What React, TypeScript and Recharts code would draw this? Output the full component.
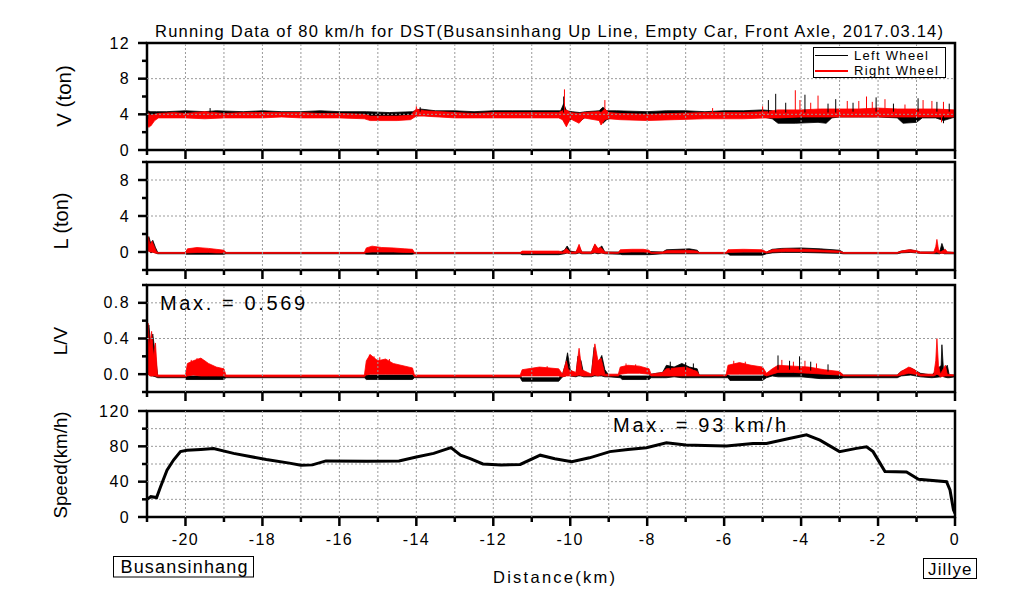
import React from "react";
import {
  ComposedChart,
  Area,
  Line,
  XAxis,
  YAxis,
  ReferenceArea,
  Legend,
} from "recharts";

const FONT = '"Liberation Sans", Arial, sans-serif';
const W = 1013;
const H = 591;
const PLOT_L = 147;
const PLOT_R = 955;
const Y_AXIS_W = 50;
const X_DOMAIN: [number, number] = [-21, 0];
const GRID = "#9a9a9a";

// distance axis (km)
const xMajor = [-20, -18, -16, -14, -12, -10, -8, -6, -4, -2, 0];
const xMinor = [-21, -19, -17, -15, -13, -11, -9, -7, -5, -3, -1];
const xGrid = [-20, -19, -18, -17, -16, -15, -14, -13, -12, -11, -10, -9, -8, -7, -6, -5, -4, -3, -2, -1];

// [distance, low, high] envelopes of the wheel signals
type Band = [number, number, number];
// [distance, from, to] isolated spikes
type Spike = [number, number, number];

// ---- V (ton)
const vLeft: Band[] = [
  [-21.0, 3.0, 4.4], [-20.9, 3.1, 4.3], [-20.75, 3.7, 4.3], [-20.5, 3.8, 4.3], [-20.0, 3.8, 4.4],
  [-19.5, 3.8, 4.3], [-19.2, 3.8, 4.4], [-18.5, 3.8, 4.3], [-18.0, 3.8, 4.4], [-17.5, 3.8, 4.3],
  [-17.0, 3.8, 4.3], [-16.5, 3.8, 4.4], [-16.0, 3.8, 4.3], [-15.3, 3.7, 4.3], [-14.7, 3.7, 4.2],
  [-14.1, 3.7, 4.3], [-13.9, 3.9, 4.6], [-13.5, 3.8, 4.4], [-13.0, 3.8, 4.4], [-12.5, 3.8, 4.3],
  [-12.0, 3.8, 4.4], [-11.5, 3.8, 4.4], [-11.0, 3.8, 4.4], [-10.5, 3.8, 4.4], [-10.25, 3.8, 4.4],
  [-10.17, 3.3, 5.2], [-10.1, 2.9, 4.4], [-9.95, 3.6, 4.3], [-9.75, 3.2, 4.2], [-9.6, 3.7, 4.3],
  [-9.25, 3.6, 4.4], [-9.15, 3.0, 4.8], [-9.05, 3.4, 4.4], [-8.8, 3.8, 4.4], [-8.0, 3.7, 4.3],
  [-7.5, 3.7, 4.4], [-7.0, 3.7, 4.4], [-6.5, 3.7, 4.3], [-6.0, 3.7, 4.4], [-5.5, 3.7, 4.4],
  [-5.0, 3.7, 4.5], [-4.75, 3.5, 4.4], [-4.6, 3.0, 3.9], [-4.15, 3.0, 3.9], [-3.56, 3.1, 4.0],
  [-3.35, 3.0, 3.9], [-3.2, 3.6, 4.4], [-3.0, 3.7, 4.5], [-2.5, 3.7, 4.5], [-2.0, 3.7, 4.5],
  [-1.5, 3.6, 4.4], [-1.35, 3.0, 4.0], [-1.0, 3.1, 4.0], [-0.85, 3.6, 4.4], [-0.5, 3.6, 4.5],
  [-0.3, 3.3, 4.5], [0, 3.7, 4.4],
];
const vRight: Band[] = [
  [-21.0, 2.6, 4.3], [-20.9, 2.7, 3.9], [-20.8, 3.3, 4.0], [-20.7, 3.6, 4.1], [-20.3, 3.6, 4.2],
  [-20.0, 3.6, 4.1], [-19.5, 3.5, 4.3], [-19.0, 3.6, 4.1], [-18.5, 3.6, 4.2], [-18.0, 3.6, 4.2],
  [-17.5, 3.7, 4.2], [-17.0, 3.6, 4.2], [-16.5, 3.6, 4.1], [-16.0, 3.6, 4.1], [-15.35, 3.5, 4.0],
  [-15.2, 3.3, 3.8], [-14.5, 3.3, 3.8], [-14.15, 3.4, 3.9], [-14.0, 3.8, 4.6], [-13.8, 3.8, 4.4],
  [-13.0, 3.6, 4.2], [-12.5, 3.6, 4.1], [-12.0, 3.6, 4.2], [-11.5, 3.6, 4.2], [-11.0, 3.6, 4.2],
  [-10.3, 3.6, 4.2], [-10.2, 3.4, 4.4], [-10.1, 2.6, 4.5], [-10.0, 3.5, 4.2], [-9.77, 3.0, 4.1],
  [-9.65, 3.6, 4.2], [-9.25, 3.3, 4.3], [-9.2, 2.8, 4.2], [-9.1, 3.4, 4.6], [-9.0, 3.5, 4.2],
  [-8.7, 3.4, 4.1], [-8.0, 3.3, 4.0], [-7.3, 3.4, 4.1], [-6.5, 3.5, 4.2], [-5.5, 3.5, 4.2],
  [-4.9, 3.6, 4.3], [-4.6, 3.6, 4.5], [-4.0, 3.7, 4.5], [-3.5, 3.7, 4.6], [-3.0, 3.7, 4.6],
  [-2.5, 3.7, 4.6], [-2.0, 3.7, 4.7], [-1.5, 3.7, 4.6], [-1.0, 3.7, 4.6], [-0.5, 3.7, 4.6],
  [0, 3.7, 4.5],
];
const vLeftSpikes: Spike[] = [
  [-19.36, 4.2, 4.7], [-13.9, 4.3, 4.8], [-10.17, 4.2, 6.0], [-4.85, 4.2, 5.6], [-4.66, 4.2, 6.3],
  [-4.4, 4.2, 5.3], [-3.9, 4.2, 6.2], [-3.3, 4.2, 5.2], [-3.1, 4.2, 5.7], [-2.65, 4.3, 5.3],
  [-2.05, 4.3, 5.9], [-1.6, 4.3, 5.2], [-0.96, 4.3, 5.8], [-0.47, 4.3, 5.4], [-0.15, 4.3, 5.2],
  [-0.3, 3.8, 3.0],
];
const vRightSpikes: Spike[] = [
  [-20.95, 3.5, 2.5], [-14.0, 4.3, 4.9], [-10.15, 4.2, 6.8], [-9.1, 4.2, 5.6], [-6.3, 4.1, 4.7],
  [-5.0, 4.2, 4.9], [-4.15, 4.3, 6.7], [-4.03, 4.3, 5.6], [-3.75, 4.3, 5.3], [-3.56, 4.3, 6.1],
  [-2.8, 4.4, 5.5], [-2.5, 4.4, 5.5], [-2.3, 4.4, 6.0], [-2.15, 4.4, 5.4], [-1.82, 4.4, 5.7],
  [-1.3, 4.4, 5.1], [-0.83, 4.4, 5.6], [-0.6, 4.4, 5.5], [-0.3, 4.4, 5.4], [-0.35, 3.8, 3.1],
];

// ---- L (ton)
const lLeft: Band[] = [
  [-21.0, 0.0, 1.4], [-20.95, 0.2, 1.7], [-20.9, -0.1, 0.9], [-20.85, 0.0, 1.3], [-20.78, -0.1, 0.5],
  [-20.72, -0.2, -0.05], [-20.0, -0.2, -0.05], [-19.98, -0.25, 0.1], [-19.0, -0.25, 0.1],
  [-18.95, -0.2, -0.05], [-15.35, -0.2, -0.05], [-15.3, -0.25, 0.15], [-14.1, -0.25, 0.1],
  [-14.05, -0.2, -0.05], [-11.3, -0.2, -0.05], [-11.25, -0.3, -0.05], [-10.3, -0.3, -0.05],
  [-10.15, -0.2, 0.2], [-10.08, -0.1, 0.67], [-10.0, -0.2, 0.1], [-9.85, -0.2, 0.0],
  [-9.77, -0.1, 0.6], [-9.7, -0.2, 0.0], [-9.45, -0.2, 0.0], [-9.36, -0.1, 0.8], [-9.28, -0.2, 0.3],
  [-9.18, -0.1, 0.67], [-9.1, -0.2, 0.0], [-8.7, -0.25, 0.0], [-8.65, -0.3, 0.05], [-7.95, -0.3, 0.05],
  [-7.6, -0.2, 0.0], [-7.5, -0.2, 0.25], [-7.2, -0.2, 0.3], [-6.9, -0.2, 0.35], [-6.7, -0.2, 0.2],
  [-6.65, -0.2, -0.05], [-5.9, -0.2, -0.05], [-5.85, -0.35, -0.05], [-5.0, -0.35, -0.05],
  [-4.9, -0.2, 0.0], [-4.75, -0.1, 0.3], [-4.5, -0.05, 0.4], [-4.0, -0.05, 0.45], [-3.5, -0.1, 0.35],
  [-3.0, -0.15, 0.2], [-2.9, -0.2, -0.05], [-1.5, -0.2, -0.05], [-1.4, -0.1, 0.1], [-1.15, -0.05, 0.25],
  [-0.9, -0.15, 0.0], [-0.4, -0.2, 0.0], [-0.34, -0.1, 0.95], [-0.28, -0.2, 0.2], [-0.2, -0.2, 0.0],
  [0, -0.2, -0.05],
];
const lRight: Band[] = [
  [-21.0, 0.0, 1.5], [-20.97, 0.1, 1.7], [-20.92, 0.0, 0.8], [-20.87, 0.0, 1.2], [-20.8, -0.1, 0.5],
  [-20.75, -0.15, 0.0], [-20.7, -0.15, -0.05], [-20.0, -0.15, -0.05], [-19.95, -0.1, 0.35],
  [-19.7, -0.05, 0.5], [-19.4, -0.05, 0.4], [-19.2, -0.1, 0.3], [-19.0, -0.1, 0.2],
  [-18.95, -0.15, -0.05], [-15.35, -0.15, -0.05], [-15.3, -0.05, 0.45], [-15.15, 0.0, 0.65],
  [-14.9, 0.0, 0.5], [-14.6, 0.0, 0.45], [-14.3, -0.05, 0.35], [-14.1, -0.05, 0.3],
  [-14.05, -0.15, -0.05], [-11.3, -0.15, -0.05], [-11.25, -0.15, 0.1], [-10.3, -0.15, 0.1],
  [-10.2, -0.15, 0.0], [-10.1, -0.1, 0.4], [-10.0, -0.15, 0.0], [-9.85, -0.15, 0.0], [-9.77, -0.05, 0.85],
  [-9.7, -0.15, 0.0], [-9.45, -0.15, 0.0], [-9.36, -0.05, 0.9], [-9.28, -0.1, 0.4], [-9.2, -0.1, 0.5],
  [-9.1, -0.15, 0.0], [-8.75, -0.15, -0.05], [-8.7, -0.05, 0.25], [-8.4, 0.0, 0.3], [-8.1, 0.0, 0.3],
  [-7.95, -0.05, 0.2], [-7.9, -0.15, -0.05], [-7.6, -0.15, 0.0], [-7.5, -0.1, 0.15], [-7.0, -0.1, 0.2],
  [-6.7, -0.1, 0.1], [-6.65, -0.15, -0.05], [-5.95, -0.15, -0.05], [-5.9, -0.05, 0.25], [-5.5, 0.0, 0.3],
  [-5.0, 0.0, 0.25], [-4.9, -0.1, 0.0], [-4.75, 0.0, 0.25], [-4.4, 0.05, 0.35], [-3.9, 0.05, 0.3],
  [-3.4, 0.0, 0.2], [-3.0, -0.05, 0.1], [-2.9, -0.15, -0.05], [-1.5, -0.15, -0.05], [-1.4, -0.05, 0.1],
  [-1.2, 0.0, 0.25], [-1.0, -0.05, 0.15], [-0.9, -0.15, 0.0], [-0.55, -0.15, 0.0], [-0.5, -0.05, 0.6],
  [-0.47, 0.0, 1.4], [-0.43, -0.1, 0.3], [-0.38, -0.15, 0.0], [-0.25, -0.15, 0.3], [-0.2, -0.15, 0.0],
  [0, -0.15, -0.05],
];

// ---- L/V
const lvLeft: Band[] = [
  [-21.0, -0.02, 0.45], [-20.95, 0.0, 0.55], [-20.9, -0.02, 0.3], [-20.85, -0.02, 0.45],
  [-20.78, -0.03, 0.2], [-20.72, -0.04, -0.02], [-20.0, -0.04, -0.02], [-19.98, -0.06, -0.02],
  [-19.0, -0.06, -0.02], [-18.95, -0.04, -0.02], [-15.35, -0.04, -0.02], [-15.3, -0.06, -0.01],
  [-14.1, -0.06, -0.01], [-14.05, -0.04, -0.02], [-11.3, -0.04, -0.02], [-11.25, -0.08, -0.04],
  [-10.3, -0.08, -0.04], [-10.2, -0.03, 0.0], [-10.12, -0.02, 0.12], [-10.07, 0.0, 0.24],
  [-10.0, -0.02, 0.05], [-9.85, -0.03, -0.01], [-9.8, -0.02, 0.2], [-9.72, -0.02, 0.15],
  [-9.65, -0.03, 0.0], [-9.45, -0.03, 0.0], [-9.38, -0.02, 0.3], [-9.3, -0.02, 0.1],
  [-9.18, -0.02, 0.21], [-9.1, -0.03, 0.05], [-9.0, -0.03, -0.01], [-8.7, -0.04, -0.01],
  [-8.65, -0.06, -0.02], [-7.95, -0.06, -0.02], [-7.9, -0.04, 0.0], [-7.6, -0.04, 0.02],
  [-7.5, -0.04, 0.1], [-7.3, -0.03, 0.08], [-7.1, -0.04, 0.12], [-6.9, -0.04, 0.08],
  [-6.7, -0.04, 0.06], [-6.65, -0.04, -0.01], [-5.9, -0.04, -0.01], [-5.85, -0.07, -0.02],
  [-5.0, -0.07, -0.02], [-4.9, -0.04, 0.0], [-4.75, -0.02, 0.04], [-4.6, -0.03, 0.07],
  [-4.0, -0.03, 0.06], [-3.5, -0.05, 0.04], [-3.0, -0.05, 0.02], [-2.9, -0.04, -0.01],
  [-1.5, -0.04, -0.01], [-1.4, -0.02, 0.03], [-1.15, -0.01, 0.07], [-0.9, -0.03, 0.01],
  [-0.6, -0.04, -0.01], [-0.36, -0.03, 0.1], [-0.34, 0.0, 0.33], [-0.3, -0.03, 0.05],
  [-0.2, -0.04, 0.1], [-0.15, -0.04, -0.01], [0, -0.03, -0.01],
];
const lvRight: Band[] = [
  [-21.0, -0.02, 0.5], [-20.97, 0.0, 0.57], [-20.93, -0.02, 0.3], [-20.88, -0.02, 0.48],
  [-20.83, -0.02, 0.2], [-20.78, -0.02, 0.35], [-20.73, -0.03, 0.0], [-20.7, -0.03, -0.01],
  [-20.0, -0.03, -0.01], [-19.95, -0.02, 0.12], [-19.8, -0.01, 0.15], [-19.6, -0.02, 0.18],
  [-19.4, -0.02, 0.12], [-19.2, -0.02, 0.08], [-19.0, -0.02, 0.06], [-18.95, -0.03, -0.01],
  [-15.35, -0.03, -0.01], [-15.3, -0.01, 0.15], [-15.2, 0.0, 0.22], [-15.0, 0.0, 0.15],
  [-14.8, 0.0, 0.17], [-14.6, 0.0, 0.12], [-14.4, 0.0, 0.1], [-14.1, 0.0, 0.07],
  [-14.05, -0.03, -0.01], [-11.3, -0.03, -0.01], [-11.25, -0.02, 0.05], [-10.8, -0.02, 0.08],
  [-10.3, -0.02, 0.06], [-10.2, -0.03, 0.0], [-10.1, -0.02, 0.15], [-10.05, -0.02, 0.05],
  [-9.85, -0.02, 0.02], [-9.77, -0.01, 0.29], [-9.7, -0.02, 0.05], [-9.45, -0.02, 0.0],
  [-9.36, -0.01, 0.34], [-9.28, -0.02, 0.15], [-9.2, -0.01, 0.18], [-9.1, -0.02, 0.0],
  [-8.75, -0.02, 0.0], [-8.7, 0.0, 0.08], [-8.5, 0.01, 0.1], [-8.2, 0.01, 0.09], [-7.95, 0.0, 0.06],
  [-7.9, -0.02, 0.0], [-7.6, -0.02, 0.02], [-7.5, -0.02, 0.06], [-7.0, -0.02, 0.08],
  [-6.7, -0.02, 0.03], [-6.65, -0.02, -0.01], [-5.95, -0.02, -0.01], [-5.9, 0.0, 0.1],
  [-5.6, 0.0, 0.13], [-5.3, 0.0, 0.1], [-5.0, 0.0, 0.08], [-4.9, -0.02, 0.01], [-4.75, 0.0, 0.06],
  [-4.6, 0.02, 0.1], [-4.2, 0.02, 0.09], [-3.8, 0.01, 0.08], [-3.4, 0.0, 0.05], [-3.0, -0.01, 0.03],
  [-2.9, -0.02, -0.01], [-1.5, -0.02, -0.01], [-1.4, -0.01, 0.03], [-1.2, 0.01, 0.08],
  [-1.05, 0.0, 0.05], [-0.9, -0.02, 0.0], [-0.55, -0.02, 0.0], [-0.5, -0.01, 0.15], [-0.47, 0.0, 0.4],
  [-0.43, -0.01, 0.1], [-0.38, -0.03, 0.0], [-0.25, -0.02, 0.1], [-0.2, -0.02, 0.0], [0, -0.02, -0.01],
];
const lvLeftSpikes: Spike[] = [
  [-7.4, 0.05, 0.14], [-7.0, 0.05, 0.13], [-6.8, 0.05, 0.12], [-4.6, 0.05, 0.21], [-4.3, 0.05, 0.15],
  [-4.04, 0.05, 0.2], [-3.75, 0.04, 0.14], [-3.3, 0.03, 0.11],
];
const lvRightSpikes: Spike[] = [
  [-19.85, 0.1, 0.16], [-19.7, 0.12, 0.18], [-19.5, 0.1, 0.15], [-15.22, 0.15, 0.22], [-15.1, 0.12, 0.2],
  [-14.95, 0.14, 0.19], [-14.7, 0.1, 0.17], [-10.6, 0.05, 0.09], [-8.55, 0.08, 0.12], [-8.3, 0.07, 0.11],
  [-5.75, 0.1, 0.15], [-5.45, 0.1, 0.14], [-4.5, 0.08, 0.16], [-4.2, 0.08, 0.14], [-3.9, 0.07, 0.15],
  [-3.6, 0.06, 0.12],
];

// ---- Speed (km/h)
const speed: [number, number][] = [
  [-21.0, 20], [-20.9, 23], [-20.75, 22], [-20.65, 34], [-20.48, 53], [-20.31, 64.5], [-20.13, 74],
  [-19.96, 75.5], [-19.6, 76.5], [-19.27, 77.5], [-18.75, 72], [-17.9, 65], [-17.3, 61], [-17.0, 58.5],
  [-16.7, 59], [-16.35, 63.5], [-15.3, 63], [-14.45, 63.5], [-14.0, 68], [-13.55, 72], [-13.1, 78.5],
  [-12.85, 70], [-12.6, 66], [-12.27, 60], [-11.8, 59], [-11.3, 59.5], [-10.78, 70], [-10.4, 66],
  [-9.96, 62.5], [-9.5, 67], [-8.97, 74], [-8.5, 76.5], [-8.02, 78.5], [-7.5, 84], [-7.0, 81.5],
  [-6.5, 81], [-5.94, 80.3], [-5.25, 83.3], [-4.9, 83.3], [-4.4, 88], [-3.86, 93], [-3.51, 87],
  [-3.0, 74], [-2.56, 77.7], [-2.3, 79.5], [-2.13, 74], [-1.95, 61], [-1.82, 51.4], [-1.26, 51],
  [-0.95, 42.8], [-0.22, 40], [-0.13, 30.7], [-0.04, 8], [0, 4],
];

const toBand = (rows: Band[]) => rows.map(([x, lo, hi]) => ({ x, r: [lo, hi] }));
const toSpikes = (rows: Spike[]) =>
  rows.flatMap(([x, a, b]) => [{ x, y: a }, { x, y: b }, { x, y: null }]);

const same = (a: number, b: number) => Math.abs(a - b) < 1e-6;

function renderXTick(props: any, labels: boolean) {
  const { x, y, payload } = props;
  const major = xMajor.some((m) => same(m, payload.value));
  return (
    <g>
      <line x1={x} x2={x} y1={y} y2={y + (major ? 9 : 5)} stroke="#000" strokeWidth={2.5} />
      {labels && major && (
        <text x={x} y={y + 28} textAnchor="middle" fontSize={16} letterSpacing={1.4} fontFamily={FONT} fill="#000">
          {payload.value}
        </text>
      )}
    </g>
  );
}

function renderYTick(props: any, major: number[], fmt: (v: number) => string) {
  const { x, y, payload } = props;
  const isMajor = major.some((m) => same(m, payload.value));
  return (
    <g>
      <line x1={x} x2={x - (isMajor ? 9 : 5)} y1={y} y2={y} stroke="#000" strokeWidth={2.5} />
      {isMajor && (
        <text x={x - 17} y={y} textAnchor="end" dominantBaseline="central" fontSize={16} letterSpacing={1.4} fontFamily={FONT} fill="#000">
          {fmt(payload.value)}
        </text>
      )}
    </g>
  );
}

const renderLegend = (props: any) => {
  const items = (props.payload || []).filter((p: any) => p.type !== "none");
  return (
    <div style={{ position: "relative", width: 131, height: 29, border: "1px solid #000", background: "#fff", fontFamily: FONT, fontSize: 13 }}>
      {items.map((p: any, i: number) => (
        <div key={p.value} style={{ position: "absolute", left: 1, top: i * 15, height: 15, display: "flex", alignItems: "center", whiteSpace: "nowrap" }}>
          <span style={{ display: "inline-block", width: 33, borderTop: `${i ? 2 : 1}px solid ${p.color}`, marginRight: 6 }} />
          <span style={{ letterSpacing: 1.3 }}>{p.value}</span>
        </div>
      ))}
    </div>
  );
};

function Panel(props: {
  top: number;
  plotH: number;
  domain: [number, number];
  major: number[];
  minor: number[];
  hGrid: number[];
  fmt?: (v: number) => string;
  xLabels?: boolean;
  children: React.ReactNode;
}) {
  const { top, plotH, domain, major, minor, hGrid, xLabels = false } = props;
  const fmt = props.fmt || ((v: number) => String(v));
  const xAxisH = xLabels ? 40 : 14;
  const h = 10 + plotH + xAxisH;
  const yTicks = [...major, ...minor].sort((a, b) => a - b);
  const xTicks = [...xMinor, ...xMajor].sort((a, b) => a - b);
  // dotted grid, drawn as broken line series through the chart's own scales
  const vGridRows = xGrid.flatMap((v) => [
    { x: v, g: domain[0] },
    { x: v, g: domain[1] },
    { x: v, g: null },
  ]);
  const hGridRows = hGrid.flatMap((v) => [
    { x: X_DOMAIN[0], g: v },
    { x: X_DOMAIN[1], g: v },
    { x: X_DOMAIN[1], g: null },
  ]);
  return (
    <div style={{ position: "absolute", left: 0, top: top - 10, width: W, height: h }}>
      <ComposedChart width={W} height={h} margin={{ top: 10, right: W - PLOT_R, bottom: 0, left: PLOT_L - Y_AXIS_W }}>
        <XAxis
          type="number"
          dataKey="x"
          domain={X_DOMAIN}
          ticks={xTicks}
          interval={0}
          allowDataOverflow
          height={xAxisH}
          tickSize={0}
          tickMargin={0}
          tickLine={false}
          axisLine={false}
          tick={(p: any) => renderXTick(p, xLabels)}
        />
        <YAxis
          type="number"
          domain={domain}
          ticks={yTicks}
          interval={0}
          allowDataOverflow
          width={Y_AXIS_W}
          tickSize={0}
          tickMargin={0}
          tickLine={false}
          axisLine={false}
          tick={(p: any) => renderYTick(p, major, fmt)}
        />
        <Line
          name="vgrid"
          data={vGridRows}
          dataKey="g"
          type="linear"
          stroke={GRID}
          strokeWidth={1}
          strokeDasharray="2 2"
          dot={false}
          activeDot={false}
          connectNulls={false}
          legendType="none"
          isAnimationActive={false}
        />
        <Line
          name="hgrid"
          data={hGridRows}
          dataKey="g"
          type="linear"
          stroke={GRID}
          strokeWidth={1}
          strokeDasharray="2 2"
          dot={false}
          activeDot={false}
          connectNulls={false}
          legendType="none"
          isAnimationActive={false}
        />
        {props.children}
        <ReferenceArea x1={X_DOMAIN[0]} x2={X_DOMAIN[1]} y1={domain[0]} y2={domain[1]} fill="none" fillOpacity={0} stroke="#000" strokeWidth={2.5} ifOverflow="visible" />
      </ComposedChart>
    </div>
  );
}

const bandSeries = (name: string, rows: Band[], color: string, legend = true) => (
  <Area
    key={name}
    name={name}
    data={toBand(rows)}
    dataKey="r"
    type="linear"
    stroke={color}
    strokeWidth={0.8}
    fill={color}
    fillOpacity={1}
    dot={false}
    activeDot={false}
    legendType={legend ? "line" : "none"}
    isAnimationActive={false}
  />
);

const spikeSeries = (name: string, rows: Spike[], color: string) => (
  <Line
    key={name}
    name={name}
    data={toSpikes(rows)}
    dataKey="y"
    type="linear"
    stroke={color}
    strokeWidth={1}
    dot={false}
    activeDot={false}
    connectNulls={false}
    legendType="none"
    isAnimationActive={false}
  />
);

export default function App() {
  return (
    <div style={{ position: "absolute", left: 0, top: 0, width: W, height: H, background: "#fff", overflow: "hidden", fontFamily: FONT }}>
      <Panel top={43} plotH={107} domain={[0, 12]} major={[0, 4, 8, 12]} minor={[2, 6, 10]} hGrid={[4, 8]}>
        {bandSeries("Left Wheel", vLeft, "#000000")}
        {spikeSeries("vls", vLeftSpikes, "#000000")}
        {bandSeries("Right Wheel", vRight, "#ff0000")}
        {spikeSeries("vrs", vRightSpikes, "#ff0000")}
        <Legend
          layout="vertical"
          align="center"
          verticalAlign="middle"
          content={renderLegend}
          wrapperStyle={{ left: 813, top: 14, width: 133, height: 31 }}
        />
      </Panel>

      <Panel top={162} plotH={108} domain={[-2, 10]} major={[0, 4, 8]} minor={[-2, 2, 6, 10]} hGrid={[4, 8]}>
        {bandSeries("Left Wheel", lLeft, "#000000", false)}
        {bandSeries("Right Wheel", lRight, "#ff0000", false)}
      </Panel>

      <Panel
        top={285}
        plotH={107}
        domain={[-0.2, 1.0]}
        major={[0, 0.4, 0.8]}
        minor={[-0.2, 0.2, 0.6, 1.0]}
        hGrid={[0.4, 0.8]}
        fmt={(v) => v.toFixed(1)}
      >
        {bandSeries("Left Wheel", lvLeft, "#000000", false)}
        {spikeSeries("lvls", lvLeftSpikes, "#000000")}
        {bandSeries("Right Wheel", lvRight, "#ff0000", false)}
        {spikeSeries("lvrs", lvRightSpikes, "#ff0000")}
      </Panel>

      <Panel top={411} plotH={106} domain={[0, 120]} major={[0, 40, 80, 120]} minor={[20, 60, 100]} hGrid={[20, 40, 60, 80, 100]} xLabels>
        <Line
          name="Speed"
          data={speed.map(([x, v]) => ({ x, v }))}
          dataKey="v"
          type="linear"
          stroke="#000"
          strokeWidth={3}
          dot={false}
          activeDot={false}
          legendType="none"
          isAnimationActive={false}
        />
      </Panel>

      <svg width={W} height={H} style={{ position: "absolute", left: 0, top: 0, pointerEvents: "none" }} fontFamily={FONT}>
        <text x={155} y={36.5} fontSize={16.5} textLength={788} lengthAdjust="spacing" fill="#000">
          Running Data of 80 km/h for DST(Busansinhang Up Line, Empty Car, Front Axle, 2017.03.14)
        </text>
        <text transform="translate(63.5,96) rotate(-90)" textAnchor="middle" dominantBaseline="central" fontSize={20.5}>V (ton)</text>
        <text transform="translate(61,221) rotate(-90)" textAnchor="middle" dominantBaseline="central" fontSize={20}>L (ton)</text>
        <text transform="translate(60,341) rotate(-90)" textAnchor="middle" dominantBaseline="central" fontSize={19}>L/V</text>
        <text transform="translate(60,465) rotate(-90)" textAnchor="middle" dominantBaseline="central" fontSize={18.7}>Speed(km/h)</text>

        <text x={160} y={310} fontSize={20} textLength={145} lengthAdjust="spacing">Max. = 0.569</text>
        <text x={613} y={432} fontSize={20} textLength={173} lengthAdjust="spacing">Max. = 93 km/h</text>

        <text x={493} y={583} fontSize={16.5} textLength={122} lengthAdjust="spacing">Distance(km)</text>

        <rect x={113.5} y={556.5} width={140} height={20.5} fill="#fff" stroke="#000" strokeWidth={1} />
        <text x={120.5} y={573} fontSize={18} textLength={127} lengthAdjust="spacing">Busansinhang</text>
        <rect x={923.5} y={558.5} width={53} height={20} fill="#fff" stroke="#000" strokeWidth={1} />
        <text x={928} y={574.5} fontSize={17} textLength={43.5} lengthAdjust="spacing">Jillye</text>
      </svg>
    </div>
  );
}
